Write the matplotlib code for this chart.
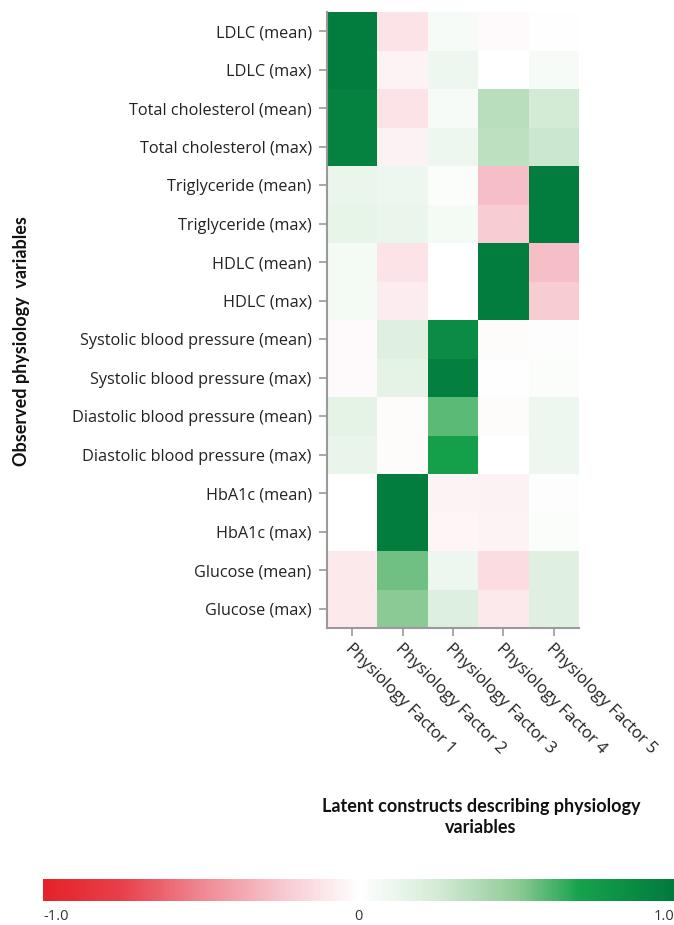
import numpy as np
import matplotlib
matplotlib.use("Agg")
import matplotlib.pyplot as plt
from matplotlib.colors import LinearSegmentedColormap
from matplotlib.transforms import ScaledTranslation, blended_transform_factory

# Observed variables (rows) and latent factors (columns)
variables = [
    "LDLC (mean)", "LDLC (max)",
    "Total cholesterol (mean)", "Total cholesterol (max)",
    "Triglyceride (mean)", "Triglyceride (max)",
    "HDLC (mean)", "HDLC (max)",
    "Systolic blood pressure (mean)", "Systolic blood pressure (max)",
    "Diastolic blood pressure (mean)", "Diastolic blood pressure (max)",
    "HbA1c (mean)", "HbA1c (max)",
    "Glucose (mean)", "Glucose (max)",
]
factors = ["Physiology Factor 1", "Physiology Factor 2", "Physiology Factor 3",
           "Physiology Factor 4", "Physiology Factor 5"]

# Factor loadings, one list per factor
factor1 = [0.97, 0.97, 0.93, 0.93, 0.12, 0.14, 0.07, 0.07,
           -0.03, -0.03, 0.15, 0.13, 0.00, 0.00, -0.10, -0.10]
factor2 = [-0.12, -0.05, -0.12, -0.06, 0.10, 0.12, -0.12, -0.08,
           0.18, 0.15, -0.02, -0.02, 0.97, 0.97, 0.55, 0.50]
factor3 = [0.05, 0.10, 0.05, 0.10, 0.03, 0.07, 0.00, 0.00,
           0.86, 0.95, 0.58, 0.72, -0.05, -0.04, 0.10, 0.20]
factor4 = [-0.03, 0.00, 0.35, 0.33, -0.28, -0.22, 0.97, 0.97,
           -0.02, 0.01, -0.02, 0.00, -0.06, -0.05, -0.15, -0.10]
factor5 = [0.01, 0.05, 0.25, 0.28, 0.97, 0.97, -0.28, -0.22,
           0.02, 0.03, 0.10, 0.10, 0.02, 0.03, 0.18, 0.18]

loadings = np.column_stack([factor1, factor2, factor3, factor4, factor5])

cbar_ticks = [-1.0, 0.0, 1.0]
cbar_labels = ["-1.0", "0", "1.0"]

cmap = LinearSegmentedColormap.from_list("rwg", [
    (0.000, "#E4222A"),
    (0.125, "#E8404B"),
    (0.250, "#EF8892"),
    (0.375, "#F7C6CE"),
    (0.500, "#FFFFFF"),
    (0.625, "#D4EBD6"),
    (0.750, "#8FCB96"),
    (0.850, "#16A24C"),
    (1.000, "#007A3D"),
])

W, H = 674, 925
fig = plt.figure(figsize=(W / 100, H / 100), dpi=100)
tick_font = "Open Sans"
title_font = "Lato"
axis_grey = "#9a9a9a"
tick_size = 11.7

ax = fig.add_axes([327 / W, 1 - 628 / H, 252 / W, 616 / H])
ax.pcolormesh(np.arange(len(factors) + 1), np.arange(len(variables) + 1),
              loadings, cmap=cmap, vmin=-1, vmax=1, shading="flat")
ax.set_xlim(0, len(factors))
ax.set_ylim(len(variables), 0)

ax.set_yticks(np.arange(len(variables)) + 0.5)
ax.set_yticklabels(variables, fontsize=tick_size, family=tick_font, color="#222222")

# Factor names run diagonally below the ticks
xpos = np.arange(len(factors)) + 0.5
ax.set_xticks(xpos)
ax.set_xticklabels([])
base = blended_transform_factory(ax.transData, ax.transAxes)
shift = ScaledTranslation(-5 / 100, -18 / 100, fig.dpi_scale_trans)
for x, name in zip(xpos, factors):
    ax.text(x, 0, name, transform=base + shift, fontsize=12, family=tick_font,
            color="#222222", rotation=-45, ha="left", va="center",
            rotation_mode="anchor")

ax.tick_params(axis="both", direction="out", length=6, width=1.2,
               color=axis_grey, pad=5)
for side in ("top", "right"):
    ax.spines[side].set_visible(False)
for side in ("left", "bottom"):
    ax.spines[side].set_color(axis_grey)
    ax.spines[side].set_linewidth(1.5)

fig.text(22 / W, 1 - 341 / H, "Observed physiology  variables", rotation=90,
         ha="center", va="center", fontsize=13, fontweight="bold",
         family=title_font, color="#111111")
fig.text(481 / W, 1 - 817 / H, "Latent constructs describing physiology\nvariables",
         ha="center", va="center", fontsize=13, fontweight="bold",
         family=title_font, color="#111111", linespacing=1.35)

# Horizontal colour scale
cax = fig.add_axes([43 / W, 1 - 901 / H, 631 / W, 22 / H])
grad = np.linspace(-1, 1, 512)
cax.pcolormesh(grad, [0, 1], grad[:-1][None, :],
               cmap=cmap, vmin=-1, vmax=1, shading="flat")
cax.set_xlim(-1, 1)
cax.set_ylim(0, 1)
cax.set_yticks([])
cax.set_xticks(cbar_ticks)
cax.set_xticklabels(cbar_labels, fontsize=10.5, family=tick_font, color="#333333")
cax.tick_params(axis="x", length=0, pad=6)
labs = cax.get_xticklabels()
labs[0].set_ha("left")
labs[-1].set_ha("right")
for s in cax.spines.values():
    s.set_visible(False)

fig.savefig("out.png", dpi=100)
